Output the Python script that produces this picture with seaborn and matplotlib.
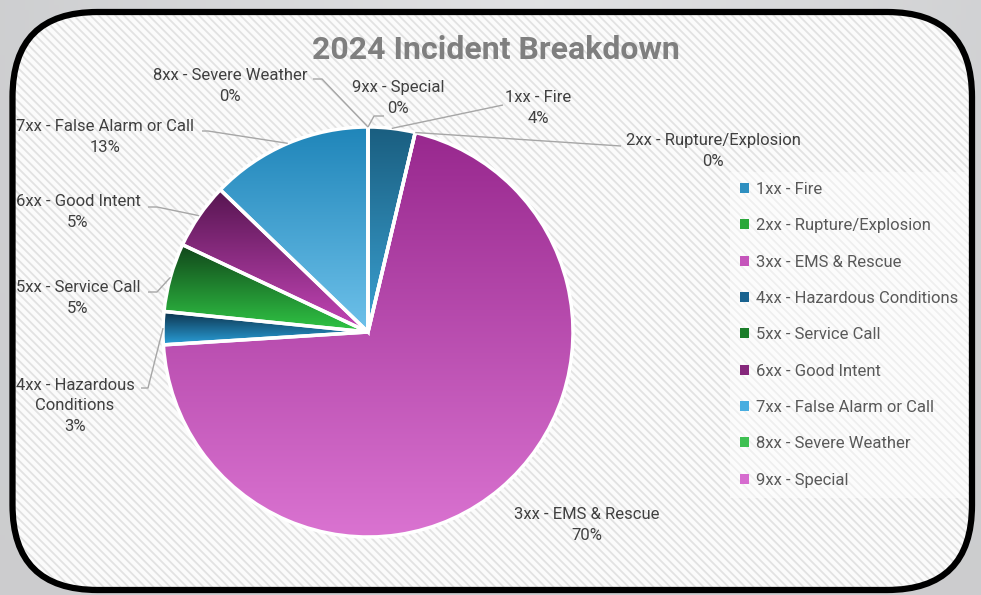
import numpy as np
import matplotlib
matplotlib.use("Agg")
import matplotlib.pyplot as plt
import seaborn as sns
from matplotlib.patches import FancyBboxPatch, Patch
from matplotlib.colors import LinearSegmentedColormap

# ---------------- data ----------------
categories = ["1xx - Fire", "2xx - Rupture/Explosion", "3xx - EMS & Rescue",
              "4xx - Hazardous Conditions", "5xx - Service Call", "6xx - Good Intent",
              "7xx - False Alarm or Call", "8xx - Severe Weather", "9xx - Special"]
label_names = ["1xx - Fire", "2xx - Rupture/Explosion", "3xx - EMS & Rescue",
               "4xx - Hazardous\nConditions", "5xx - Service Call", "6xx - Good Intent",
               "7xx - False Alarm or Call", "8xx - Severe Weather", "9xx - Special"]
shares = [3.7, 0.0, 70.3, 2.6, 5.4, 5.2, 12.8, 0.0, 0.0]
title = "2024 Incident Breakdown"

# ---------------- style ----------------
grad_top = ['#1a5e80', '#1d6a2a', '#98288e', '#0c3049', '#11451a', '#561550', '#1f85b9', '#1e7a2e', '#b040a8']
grad_bot = ['#3ba2d3', '#3cc04a', '#da73d1', '#2aa0da', '#30c645', '#c546b8', '#6ec1ea', '#4cd060', '#e07ad8']
legend_colors = ['#2e8fc0', '#2aa83a', '#c555bb', '#19628f', '#1b7d2a', '#86287c', '#48ade0', '#3ec052', '#d66ccf']

sns.set_theme(style="white")
plt.rcParams["font.family"] = ["Roboto", "DejaVu Sans"]
plt.rcParams["hatch.linewidth"] = 1.3

W, H = 981, 595
fig = plt.figure(figsize=(W / 100, H / 100), dpi=100)
ax = fig.add_axes([0, 0, 1, 1])
ax.set_axis_off()


def Y(y):
    return H - y


# outer gray background gradient
xx, yy = np.meshgrid(np.linspace(0, 1, 200), np.linspace(0, 1, 120))
val = 0.80 + 0.08 * (1 - np.abs(xx - 0.55) * 1.6).clip(0, 1) * (1 - yy)
bg = np.dstack([val, val + 0.003, val + 0.01]).clip(0, 1)
ax.imshow(bg, extent=[0, W, 0, H], origin="upper", aspect="auto", zorder=-10)

# card with hatch
card_kw = dict(boxstyle="round,pad=0,rounding_size=85")
x0c, y0c, wc, hc = 12.5, Y(590), 959.5, 578
ax.add_patch(FancyBboxPatch((x0c, y0c), wc, hc, facecolor="#fbfbfb", edgecolor="none",
                            zorder=-5, **card_kw))
ax.add_patch(FancyBboxPatch((x0c, y0c), wc, hc, facecolor="none", edgecolor="#e2e2e2",
                            hatch="\\" * 4, linewidth=0, zorder=-4, **card_kw))
ax.add_patch(FancyBboxPatch((x0c, y0c), wc, hc, facecolor="none", edgecolor="black",
                            linewidth=4.5, zorder=20, **card_kw))

# pie
cx, cy, R = 368, Y(332), 205
wedges, _ = ax.pie(shares, startangle=90, counterclock=False, center=(cx, cy), radius=R,
                   wedgeprops=dict(edgecolor="white", linewidth=2.5))

grad = np.linspace(0, 1, 256).reshape(-1, 1)
for w, v, ct, cb in zip(wedges, shares, grad_top, grad_bot):
    w.set_zorder(3)
    if v <= 0:
        continue
    ext = w.get_path().get_extents()
    cmap = LinearSegmentedColormap.from_list("g", [ct, cb])
    im = ax.imshow(grad, extent=[ext.x0, ext.x1, ext.y0, ext.y1], origin="upper",
                   cmap=cmap, aspect="auto", zorder=2, interpolation="bilinear")
    im.set_clip_path(w)
    w.set_facecolor("none")

ax.set_aspect("auto")
ax.set_xlim(0, W)
ax.set_ylim(0, H)


def rim_point(w):
    a = np.deg2rad((w.theta1 + w.theta2) / 2)
    return cx + R * np.cos(a), cy + R * np.sin(a)


# data labels: text centre and leader-line start points (pixel layout)
label_pos = [(538, 108), (713, 151), (587, 525), (75, 406), (78, 298),
             (78, 212), (105, 137), (230, 86), (398, 98)]
leader_start = [[(503, 105)], [(621, 146)], None, [(141, 388), (148, 388)],
                [(148, 292), (157, 292)], [(148, 207), (157, 207)],
                [(202, 131), (208, 131)], [(313, 79), (322, 79)], [(384, 116), (374, 116)]]

for i, w in enumerate(wedges):
    tx, ty = label_pos[i]
    ax.text(tx, Y(ty), f"{label_names[i]}\n{round(shares[i])}%", ha="center", va="center",
            fontsize=12, color="#404040", linespacing=1.45, zorder=5)
    if leader_start[i] is not None:
        px = [p[0] for p in leader_start[i]]
        py = [Y(p[1]) for p in leader_start[i]]
        rx, ry = rim_point(w)
        ax.plot(px + [rx], py + [ry], color="#a6a6a6", lw=1.0, zorder=4,
                solid_capstyle="butt")

# title
ax.text(495.5, Y(50), title, ha="center", va="center", fontsize=23,
        fontweight="bold", color="#7f7f7f", zorder=5)

# legend
handles = [Patch(facecolor=c, edgecolor="none") for c in legend_colors]
leg = ax.legend(handles, categories, loc="upper left",
                bbox_to_anchor=(730 / W, 1 - 172 / H), bbox_transform=fig.transFigure,
                fontsize=12, labelcolor="#595959", frameon=True, fancybox=False,
                borderaxespad=0, borderpad=0.6, handlelength=0.55, handleheight=0.55,
                handletextpad=0.4, labelspacing=1.28)
fr = leg.get_frame()
fr.set_facecolor("white")
fr.set_alpha(0.45)
fr.set_edgecolor("none")
leg.set_zorder(6)

fig.savefig("out.png", dpi=100)
